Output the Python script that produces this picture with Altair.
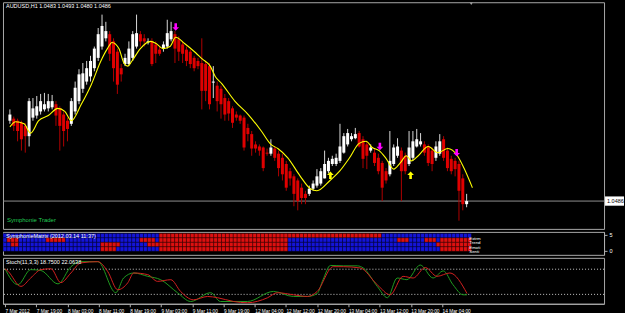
import json
import altair as alt
import pandas as pd

FONT = "Liberation Sans Narrow, Liberation Sans, sans-serif"

# ---------------- data ----------------
price_ticks = [1.0675, 1.0655, 1.0635, 1.0615, 1.0595, 1.0575, 1.0560, 1.0540,
               1.0520, 1.0500, 1.0480, 1.0465]
time_labels = ["7 Mar 2012", "7 Mar 19:00", "8 Mar 03:00", "8 Mar 11:00", "8 Mar 19:00",
               "9 Mar 03:00", "9 Mar 11:00", "9 Mar 19:00", "12 Mar 04:00", "12 Mar 12:00",
               "12 Mar 20:00", "13 Mar 04:00", "13 Mar 12:00", "13 Mar 20:00", "14 Mar 04:00"]
time_label_bars = [0, 8, 16, 24, 32, 40, 48, 56, 64, 72, 80, 88, 96, 104, 112]

opens = [1.0564, 1.0566, 1.0564, 1.0562, 1.0559, 1.0549, 1.0567, 1.0569, 1.0573, 1.0575,
         1.0576, 1.0577, 1.0580, 1.0576, 1.0570, 1.0564, 1.0561, 1.0573, 1.0583, 1.0595,
         1.0602, 1.0607, 1.0615, 1.0625, 1.0636, 1.0644, 1.0648, 1.0641, 1.0631, 1.0615,
         1.0619, 1.0619, 1.0625, 1.0636, 1.0648, 1.0644, 1.0640, 1.0641, 1.0638, 1.0633,
         1.0634, 1.0636, 1.0643, 1.0648, 1.0643, 1.0638, 1.0633, 1.0631, 1.0625, 1.0622,
         1.0620, 1.0619, 1.0617, 1.0601, 1.0598, 1.0595, 1.0586, 1.0583, 1.0576, 1.0570,
         1.0569, 1.0567, 1.0557, 1.0551, 1.0541, 1.0539, 1.0538, 1.0533, 1.0532, 1.0537,
         1.0532, 1.0528, 1.0522, 1.0515, 1.0510, 1.0506, 1.0499, 1.0493, 1.0493, 1.0498,
         1.0501, 1.0503, 1.0508, 1.0515, 1.0522, 1.0522, 1.0525, 1.0533, 1.0541, 1.0546,
         1.0547, 1.0552, 1.0546, 1.0541, 1.0535, 1.0533, 1.0528, 1.0523, 1.0515, 1.0512,
         1.0522, 1.0530, 1.0535, 1.0530, 1.0522, 1.0528, 1.0539, 1.0541, 1.0541, 1.0539,
         1.0535, 1.0528, 1.0532, 1.0546, 1.0535, 1.0527, 1.0525, 1.0522, 1.0508, 1.0483]
highs = [1.0575, 1.0568, 1.0566, 1.0564, 1.0562, 1.0586, 1.0586, 1.0588, 1.0590, 1.0591,
         1.0590, 1.0589, 1.0583, 1.0578, 1.0573, 1.0567, 1.0586, 1.0602, 1.0614, 1.0620,
         1.0622, 1.0627, 1.0636, 1.0654, 1.0667, 1.0660, 1.0651, 1.0644, 1.0634, 1.0619,
         1.0629, 1.0641, 1.0651, 1.0667, 1.0651, 1.0648, 1.0644, 1.0644, 1.0641, 1.0636,
         1.0641, 1.0662, 1.0660, 1.0651, 1.0646, 1.0641, 1.0636, 1.0633, 1.0627, 1.0625,
         1.0644, 1.0622, 1.0620, 1.0617, 1.0602, 1.0598, 1.0590, 1.0586, 1.0578, 1.0573,
         1.0570, 1.0569, 1.0561, 1.0554, 1.0544, 1.0541, 1.0539, 1.0537, 1.0546, 1.0539,
         1.0535, 1.0532, 1.0525, 1.0518, 1.0512, 1.0508, 1.0503, 1.0496, 1.0501, 1.0506,
         1.0517, 1.0518, 1.0535, 1.0528, 1.0530, 1.0532, 1.0561, 1.0552, 1.0556, 1.0552,
         1.0557, 1.0554, 1.0549, 1.0544, 1.0541, 1.0537, 1.0532, 1.0525, 1.0518, 1.0554,
         1.0541, 1.0547, 1.0538, 1.0533, 1.0554, 1.0554, 1.0556, 1.0552, 1.0544, 1.0541,
         1.0538, 1.0544, 1.0551, 1.0549, 1.0538, 1.0530, 1.0528, 1.0525, 1.0512, 1.0493]
lows = [1.0561, 1.0554, 1.0544, 1.0535, 1.0533, 1.0539, 1.0564, 1.0566, 1.0570, 1.0573,
        1.0573, 1.0575, 1.0559, 1.0535, 1.0539, 1.0544, 1.0559, 1.0570, 1.0580, 1.0591,
        1.0599, 1.0602, 1.0612, 1.0622, 1.0633, 1.0641, 1.0622, 1.0602, 1.0590, 1.0602,
        1.0617, 1.0617, 1.0622, 1.0634, 1.0636, 1.0636, 1.0638, 1.0617, 1.0620, 1.0627,
        1.0631, 1.0634, 1.0641, 1.0620, 1.0622, 1.0620, 1.0617, 1.0615, 1.0612, 1.0614,
        1.0575, 1.0583, 1.0575, 1.0586, 1.0573, 1.0566, 1.0564, 1.0564, 1.0557, 1.0564,
        1.0561, 1.0535, 1.0544, 1.0530, 1.0533, 1.0530, 1.0515, 1.0530, 1.0530, 1.0525,
        1.0510, 1.0506, 1.0496, 1.0501, 1.0481, 1.0477, 1.0483, 1.0483, 1.0491, 1.0496,
        1.0499, 1.0501, 1.0508, 1.0513, 1.0520, 1.0520, 1.0523, 1.0532, 1.0539, 1.0544,
        1.0546, 1.0538, 1.0518, 1.0517, 1.0533, 1.0520, 1.0512, 1.0486, 1.0503, 1.0510,
        1.0520, 1.0528, 1.0486, 1.0512, 1.0520, 1.0525, 1.0538, 1.0539, 1.0530, 1.0520,
        1.0515, 1.0525, 1.0530, 1.0525, 1.0515, 1.0512, 1.0510, 1.0467, 1.0477, 1.0480]
closes = [1.0570, 1.0559, 1.0554, 1.0546, 1.0549, 1.0583, 1.0576, 1.0578, 1.0583, 1.0580,
          1.0583, 1.0583, 1.0569, 1.0559, 1.0554, 1.0556, 1.0583, 1.0596, 1.0609, 1.0610,
          1.0615, 1.0622, 1.0634, 1.0648, 1.0656, 1.0651, 1.0629, 1.0615, 1.0599, 1.0609,
          1.0625, 1.0634, 1.0648, 1.0649, 1.0641, 1.0641, 1.0641, 1.0619, 1.0629, 1.0629,
          1.0638, 1.0649, 1.0651, 1.0634, 1.0631, 1.0629, 1.0622, 1.0619, 1.0615, 1.0617,
          1.0593, 1.0593, 1.0580, 1.0602, 1.0583, 1.0580, 1.0570, 1.0571, 1.0562, 1.0567,
          1.0564, 1.0538, 1.0551, 1.0537, 1.0537, 1.0535, 1.0518, 1.0532, 1.0538, 1.0528,
          1.0518, 1.0512, 1.0499, 1.0508, 1.0493, 1.0486, 1.0489, 1.0489, 1.0498, 1.0503,
          1.0510, 1.0515, 1.0522, 1.0525, 1.0527, 1.0528, 1.0539, 1.0549, 1.0552, 1.0549,
          1.0551, 1.0539, 1.0527, 1.0530, 1.0538, 1.0523, 1.0515, 1.0499, 1.0506, 1.0525,
          1.0538, 1.0539, 1.0515, 1.0515, 1.0538, 1.0544, 1.0546, 1.0544, 1.0533, 1.0523,
          1.0522, 1.0539, 1.0544, 1.0528, 1.0518, 1.0515, 1.0517, 1.0496, 1.0483, 1.0486]
bid = 1.0486

ma_bar = [0, 1.5, 3.7, 5.4, 7.5, 10, 12.5, 14.3, 16, 18.6, 21.2, 23.7, 25.4, 26.6, 28.4,
          29.7, 30.7, 31.8, 34, 36.6, 38.1, 39.9, 41.7, 43.2, 45.5, 48.4, 50.1, 52.2, 53.5,
          55.2, 58.6, 62.1, 65.5, 68, 69.8, 72.4, 75.5, 78.3, 80, 83.4, 85.9, 88.5, 91, 92.8,
          94.4, 96.2, 97.9, 100, 101.7, 103.3, 104.6, 106.4, 109, 111.5, 114.1, 116.6, 118.3,
          120.5]
ma_val = [1.0558, 1.0563, 1.0561, 1.0552, 1.0564, 1.0569, 1.0576, 1.0573, 1.0564, 1.0580,
          1.0599, 1.0622, 1.0634, 1.0640, 1.0634, 1.0620, 1.0617, 1.0622, 1.0634, 1.0641,
          1.0639, 1.0634, 1.0636, 1.0645, 1.0639, 1.0630, 1.0624, 1.0617, 1.0607, 1.0600,
          1.0583, 1.0570, 1.0554, 1.0541, 1.0537, 1.0528, 1.0511, 1.0498, 1.0496, 1.0506,
          1.0515, 1.0528, 1.0542, 1.0544, 1.0538, 1.0535, 1.0528, 1.0517, 1.0523, 1.0530,
          1.0525, 1.0530, 1.0539, 1.0533, 1.0537, 1.0530, 1.0518, 1.0499]

down_arrow_bar = [43.2, 96.4, 116.4]
down_arrow_price = [1.0655, 1.0539, 1.0533]
up_arrow_bar = [83.5, 104.4]
up_arrow_price = [1.0511, 1.0511]

matrix_rows = ["Extrm", "Trend", "Emoti", "Senti"]
matrix_runs = [
    [("B", 40), ("R", 57), ("B", 23)],
    [("B", 1), ("R", 3), ("B", 7), ("R", 5), ("B", 19), ("R", 4), ("B", 1), ("R", 33),
     ("B", 28), ("R", 3), ("B", 4), ("R", 3), ("B", 1), ("R", 8)],
    [("B", 2), ("R", 2), ("B", 21), ("R", 5), ("B", 7), ("R", 36), ("B", 38), ("R", 9)],
    [("B", 25), ("R", 4), ("B", 11), ("R", 33), ("B", 39), ("R", 8)],
]

stoch_k_bar = [0, 3.3, 6.6, 9.2, 13.6, 16.9, 19.4, 23.8, 28.4, 30.4, 33, 36.6, 39.9, 44.2,
               47.6, 52.7, 55.2, 62.1, 68.8, 73.9, 77.5, 80, 81.5, 83.4, 86.7, 90.3, 91.8,
               95.4, 98, 100.5, 103, 106.4, 109.7, 112.3, 114.8, 117.4, 118.4]
stoch_k_val = [81, 43, 79, 77, 45, 86, 98, 98, 24, 59, 71, 63, 55, 24, 3, 24, 3, 3, 27, 15,
               15, 22, 55, 89, 88, 88, 83, 39, 12, 59, 55, 90, 59, 76, 43, 19, 19]
stoch_d_bar = [0, 0.8, 4.1, 6.6, 9.2, 11.8, 14.3, 16.9, 19.4, 23.8, 26.3, 28.9, 31.5, 33,
               36.6, 39.1, 42.5, 45, 48.3, 51.9, 54.5, 58.6, 62.1, 67.3, 69.8, 73.9, 77.5,
               80, 84.1, 86.7, 91, 95.4, 98.7, 102, 104.6, 107.7, 110.7, 114, 118.4]
stoch_d_val = [81, 75, 39, 59, 79, 81, 48, 71, 95, 98, 75, 31, 48, 71, 67, 51, 55, 27, 7,
               15, 12, 3, 0, 12, 24, 19, 15, 27, 86, 86, 83, 43, 19, 63, 59, 84, 63, 71, 22]
stoch_levels = [20, 80]

# ---------------- tables ----------------
df = pd.DataFrame({"bar": list(range(len(opens))), "open": opens, "high": highs,
                   "low": lows, "close": closes})
df["dir"] = ["up" if c >= o else "down" for o, c in zip(opens, closes)]
ma_df = pd.DataFrame({"bar": ma_bar, "ma": ma_val})
down_df = pd.DataFrame({"bar": down_arrow_bar, "p": down_arrow_price})
up_df = pd.DataFrame({"bar": up_arrow_bar, "p": up_arrow_price})

cells = []
for k, (row, runs) in enumerate(zip(matrix_rows, matrix_runs)):
    b = 0
    for state, n in runs:
        for _ in range(n):
            cells.append({"x1": b - 0.5, "x2": b + 0.5, "y1": 5.47 - 1.4 * k,
                          "y2": 5.47 - 1.4 * (k + 1), "state": state})
            b += 1
cells_df = pd.DataFrame(cells)

stoch_df = pd.concat([
    pd.DataFrame({"bar": stoch_k_bar, "v": stoch_k_val, "s": "main"}),
    pd.DataFrame({"bar": stoch_d_bar, "v": stoch_d_val, "s": "signal"}),
])

# ---------------- scales / axes ----------------
x_scale = alt.Scale(domain=[-0.5, 153.5], nice=False, zero=False)
AX = dict(labelColor="#ffffff", labelFont=FONT, labelFontSize=5.5, tickColor="#b0b0b0",
          domainColor="#b0b0b0", tickSize=3, labelPadding=2, grid=False, title=None,
          labelOverlap=False)
y_main = alt.Scale(domain=[1.0459, 1.0679], nice=False, zero=False)

DOWN = "M-0.35,-1 L0.35,-1 L0.35,0.1 L0.9,0.1 L0,1 L-0.9,0.1 L-0.35,0.1 Z"
UP = "M-0.35,1 L0.35,1 L0.35,-0.1 L0.9,-0.1 L0,-1 L-0.9,-0.1 L-0.35,-0.1 Z"


def text_layer(txt, x, y, color="#ffffff", size=5.5, align="left"):
    return alt.Chart(pd.DataFrame({"t": [txt]})).mark_text(
        align=align, baseline="middle", font=FONT, fontSize=size, color=color
    ).encode(x=alt.value(x), y=alt.value(y), text="t:N")


# ---------------- main panel ----------------
bid_line = alt.Chart(pd.DataFrame({"p": [bid]})).mark_rule(color="#909090", strokeWidth=1).encode(
    y=alt.Y("p:Q", scale=y_main, axis=alt.Axis(orient="right", values=price_ticks,
                                                format=".4f", **AX)))
wicks = alt.Chart(df).mark_rule(strokeWidth=1).encode(
    x=alt.X("bar:Q", scale=x_scale, axis=None),
    y=alt.Y("low:Q", axis=None), y2="high:Q",
    stroke=alt.Stroke("dir:N", scale=alt.Scale(domain=["up", "down"],
                                               range=["#d8d8d8", "#b00000"]), legend=None))
bodies = alt.Chart(df).mark_bar(width=3).encode(
    x=alt.X("bar:Q", axis=None), y=alt.Y("open:Q", axis=None), y2="close:Q",
    fill=alt.Fill("dir:N", scale=alt.Scale(domain=["up", "down"],
                                           range=["#ffffff", "#e00000"]), legend=None))
ma_line = alt.Chart(ma_df).mark_line(color="#ffff00", strokeWidth=1.1, interpolate="monotone").encode(
    x=alt.X("bar:Q", axis=None), y=alt.Y("ma:Q", axis=None))
down_arrows = alt.Chart(down_df).mark_point(shape=DOWN, filled=True, color="#ff00ff",
                                            size=55, opacity=1).encode(
    x=alt.X("bar:Q", axis=None), y=alt.Y("p:Q", axis=None))
up_arrows = alt.Chart(up_df).mark_point(shape=UP, filled=True, color="#ffff00",
                                        size=55, opacity=1).encode(
    x=alt.X("bar:Q", axis=None), y=alt.Y("p:Q", axis=None))
bid_box = alt.Chart(pd.DataFrame({"p": [bid]})).transform_calculate(
    top="datum.p + 0.00045", bot="datum.p - 0.00045").mark_rect(color="#ffffff").encode(
    x=alt.value(603), x2=alt.value(622), y=alt.Y("top:Q", axis=None), y2="bot:Q")
bid_text = alt.Chart(pd.DataFrame({"p": [bid]})).mark_text(
    align="left", baseline="middle", font=FONT, fontSize=5.5, color="#000000").encode(
    x=alt.value(605), y=alt.Y("p:Q", axis=None), text=alt.Text("p:Q", format=".4f"))
shift_mark = alt.Chart(pd.DataFrame({"a": [1]})).mark_point(
    shape="triangle-down", filled=True, color="#a0a0a0", size=10, opacity=1).encode(
    x=alt.value(469), y=alt.value(1.5))

main = alt.layer(
    bid_line, wicks, bodies, ma_line, down_arrows, up_arrows, bid_box, bid_text, shift_mark,
    text_layer("AUDUSD,H1  1.0483 1.0493 1.0480 1.0486", 3, 4),
    text_layer("Symphonie Trader", 4, 218, color="#22cc55", size=6),
).properties(width=602, height=227)

# ---------------- matrix panel ----------------
cells_layer = alt.Chart(cells_df).mark_rect(strokeWidth=0.6, stroke="#000000",
                                            strokeOpacity=0.55).encode(
    x=alt.X("x1:Q", scale=x_scale, axis=None), x2="x2:Q",
    y=alt.Y("y1:Q", scale=alt.Scale(domain=[-1.25, 5.94], nice=False, zero=False),
            axis=alt.Axis(orient="right", values=[0, 5], **AX)),
    y2="y2:Q",
    fill=alt.Fill("state:N", scale=alt.Scale(domain=["B", "R"], range=["#1414d8", "#dd1010"]),
                  legend=None))
row_labels = [text_layer(name, 467, 7 + 4.4 * k, size=4.4) for k, name in enumerate(matrix_rows)]
matrix = alt.layer(
    cells_layer,
    text_layer("SymphonieMatrix (2012.03.14 11:37)", 3, 4),
    *row_labels,
).properties(width=602, height=23)

# ---------------- stochastic panel ----------------
levels = alt.Chart(pd.DataFrame({"lv": stoch_levels})).mark_rule(
    color="#c8c8c8", strokeDash=[1, 2], strokeWidth=1).encode(
    y=alt.Y("lv:Q", scale=alt.Scale(domain=[-2.4, 107.1], nice=False, zero=False),
            axis=alt.Axis(orient="right", values=[0, 20, 80, 100], **AX)))
label_expr = json.dumps(time_labels) + "[round(datum.value / 8)]"
AXX = dict(AX)
AXX["labelFontSize"] = 4.8
stoch_lines = alt.Chart(stoch_df).mark_line(strokeWidth=1, interpolate="monotone").encode(
    x=alt.X("bar:Q", scale=x_scale,
            axis=alt.Axis(values=time_label_bars, labelExpr=label_expr, labelAlign="left",
                          labelFlush=False, labelBound=False, **AXX)),
    y=alt.Y("v:Q", axis=None),
    stroke=alt.Stroke("s:N", scale=alt.Scale(domain=["main", "signal"],
                                             range=["#1f9a1f", "#d22020"]), legend=None),
    detail="s:N")
stoch = alt.layer(
    levels, stoch_lines,
    text_layer("Stoch(11,3,3) 18.7500 22.0638", 3, 4),
).properties(width=602, height=46)

chart = alt.vconcat(main, matrix, stoch, spacing=1).resolve_scale(
    y="independent", fill="independent", stroke="independent").properties(
    background="#000000",
    padding={"left": 2, "top": 1, "right": 0, "bottom": 0},
).configure_view(stroke="#a8a8a8", strokeWidth=1)

chart.save("out.html", embed_options={"renderer": "svg", "actions": False})
